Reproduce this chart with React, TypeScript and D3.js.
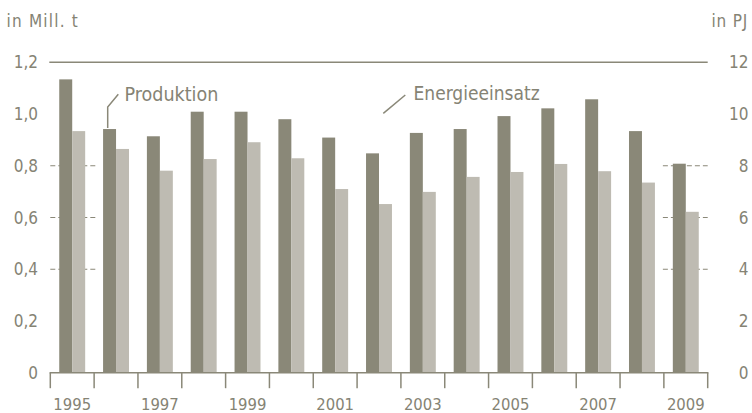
import React from "react";
import * as d3 from "d3";

const years = ["1995","1996","1997","1998","1999","2000","2001","2002","2003","2004","2005","2006","2007","2008","2009"];
// Produktion in Mill. t (left axis)
const produktion = [1.134, 0.942, 0.914, 1.009, 1.009, 0.98, 0.909, 0.848, 0.927, 0.942, 0.992, 1.022, 1.057, 0.934, 0.808];
// Energieeinsatz in PJ (right axis)
const energie = [9.34, 8.65, 7.81, 8.26, 8.91, 8.29, 7.1, 6.52, 6.99, 7.57, 7.76, 8.07, 7.79, 7.35, 6.22];
const leftTicks = [0, 0.2, 0.4, 0.6, 0.8, 1.0, 1.2];
const rightTicks = [0, 2, 4, 6, 8, 10, 12];
const dashedLeft = [0.4, 0.6, 0.8];
const yearLabels = ["1995","1997","1999","2001","2003","2005","2007","2009"];

const W = 752, H = 413;
const DARK = "#8a8878";
const LIGHT = "#bebbb2";
const TEXT = "#858374";
const FONT = "'DejaVu Sans Condensed', 'Liberation Sans Narrow', 'DejaVu Sans', sans-serif";

export default function App() {
  const x = d3.scaleBand<string>().domain(years).range([50.3, 707.7]).paddingInner(0).paddingOuter(0);
  const inner = d3.scaleBand<string>().domain(["p", "e"]).range([0, x.bandwidth()]).paddingInner(0).paddingOuter(0.69);
  const yL = d3.scaleLinear().domain([0, 1.2]).range([372.7, 62.3]);
  const yR = d3.scaleLinear().domain([0, 12]).range([372.7, 62.3]);
  const fmt = (v: number) => (v === 0 ? "0" : d3.format(".1f")(v).replace(".", ","));
  const [x0, x1] = x.range();
  const firstBand: [number, number] = [x(years[0])!, x(years[0])! + x.bandwidth()];
  const lastBand: [number, number] = [x(years[years.length - 1])!, x(years[years.length - 1])! + x.bandwidth()];
  const boundaries = years.map((y) => x(y)!).concat([x1]);

  return (
    <svg width={W} height={H} style={{ position: "absolute", left: 0, top: 0, display: "block", background: "#fff" }} fontFamily={FONT}>
      {/* dashed gridlines (only in outer bands) */}
      {dashedLeft.map((v) => (
        <g key={v} stroke={DARK} strokeWidth={1.2} strokeDasharray="5,3">
          <line x1={firstBand[0]} x2={firstBand[1] + 2} y1={yL(v)} y2={yL(v)} />
          <line x1={lastBand[0] - 1} x2={lastBand[1]} y1={yL(v)} y2={yL(v)} />
        </g>
      ))}
      {/* top solid line */}
      <line x1={x0 - 1} x2={x1} y1={yL(1.2)} y2={yL(1.2)} stroke={DARK} strokeWidth={1.4} />
      {/* bars */}
      {years.map((yr, i) => (
        <g key={yr}>
          <rect x={x(yr)! + inner("p")!} width={inner.bandwidth()} y={yL(produktion[i])} height={yL(0) - yL(produktion[i])} fill={DARK} />
          <rect x={x(yr)! + inner("e")!} width={inner.bandwidth()} y={yR(energie[i])} height={yR(0) - yR(energie[i])} fill={LIGHT} />
        </g>
      ))}
      {/* x axis */}
      <line x1={x0 - 0.7} x2={x1 + 0.7} y1={yL(0)} y2={yL(0)} stroke={DARK} strokeWidth={1.6} />
      {boundaries.map((b, i) => (
        <line key={i} x1={b} x2={b} y1={yL(0)} y2={yL(0) + 15.5} stroke={DARK} strokeWidth={1.5} />
      ))}
      {yearLabels.map((yr) => (
        <text key={yr} x={x(yr)! + x.bandwidth() / 2} y={409.5} textAnchor="middle" fontSize={16.5} fill={TEXT}>{yr}</text>
      ))}
      {/* left axis labels */}
      {leftTicks.map((v) => (
        <text key={v} x={38} y={yL(v) + 6} textAnchor="end" fontSize={17} fill={TEXT}>{fmt(v)}</text>
      ))}
      {rightTicks.map((v) => (
        <text key={v} x={748.5} y={yR(v) + 6} textAnchor="end" fontSize={17} fill={TEXT}>{String(v)}</text>
      ))}
      <text x={6.5} y={26.7} fontSize={17} fill={TEXT} letterSpacing={1.2}>in Mill. t</text>
      <text x={748} y={26.7} fontSize={17} textAnchor="end" fill={TEXT} letterSpacing={0.8}>in PJ</text>
      {/* annotations */}
      <path d="M107.7,128 L107.7,107 L118.3,94.3" fill="none" stroke={DARK} strokeWidth={1.5} />
      <text x={124.5} y={100.7} fontSize={19.5} fill={TEXT}>Produktion</text>
      <path d="M383.3,113.3 L405.3,95" fill="none" stroke={DARK} strokeWidth={1.5} />
      <text x={413.5} y={100} fontSize={19} fill={TEXT}>Energieeinsatz</text>
    </svg>
  );
}
